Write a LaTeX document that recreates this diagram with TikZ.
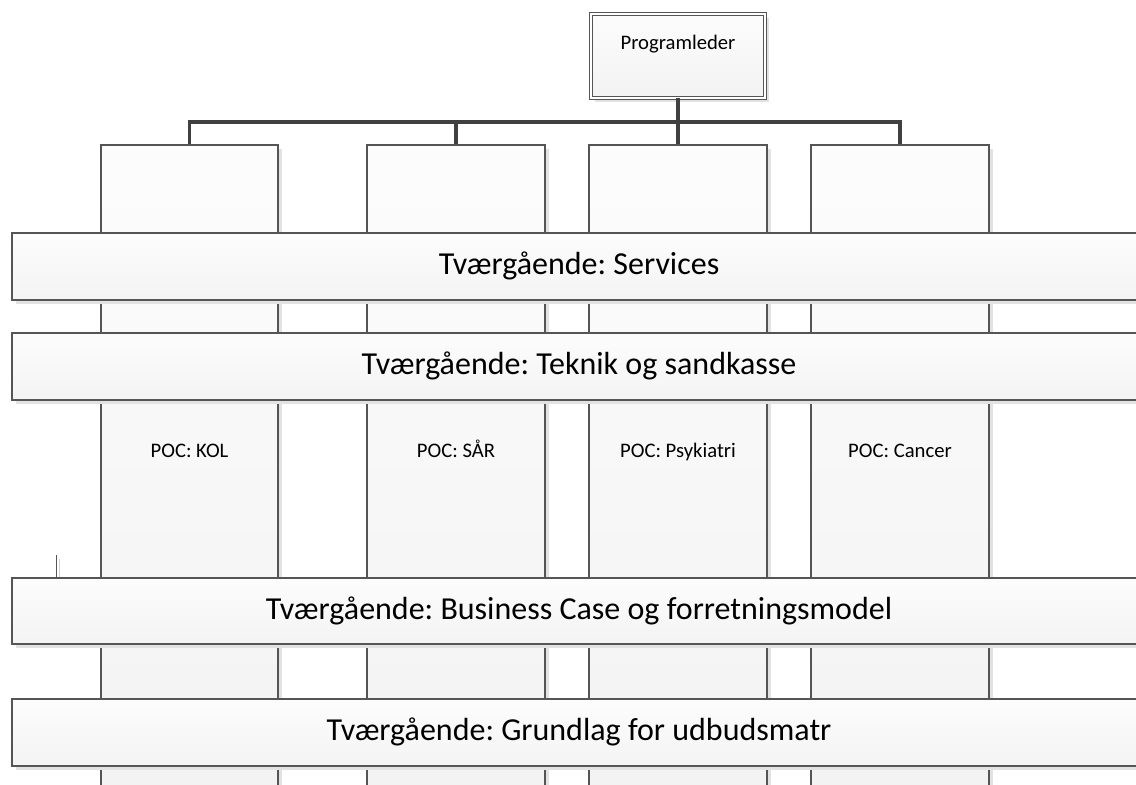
\documentclass[tikz,border=0pt]{standalone}
\usepackage{fontspec}
\setmainfont{Carlito}
\usepackage{xcolor}
\definecolor{edgegray}{RGB}{85, 85, 85}
\definecolor{linegray}{RGB}{64, 64, 64}
\definecolor{shadowgray}{RGB}{226, 226, 226}
\usetikzlibrary{positioning, calc, fit, shadows}

\tikzset{
  column/.style={draw=edgegray, line width=0.8pt, inner sep=0pt,
    top color=gray!2, bottom color=gray!10,
    drop shadow={shadow xshift=3pt, shadow yshift=-3pt, fill=shadowgray, opacity=1}},
  band/.style={draw=edgegray, line width=0.8pt, inner sep=0pt,
    top color=gray!2, bottom color=gray!9,
    drop shadow={shadow xshift=3pt, shadow yshift=-3pt, fill=shadowgray, opacity=1}},
  bandtext/.style={font=\fontsize{24}{28}\selectfont, text height=17pt, text depth=5pt},
  leadbox/.style={draw=edgegray, line width=0.7pt, double=white, double distance=1.9pt,
    inner sep=0pt, top color=gray!2, bottom color=gray!10,
    drop shadow={shadow xshift=3pt, shadow yshift=-3pt, fill=shadowgray, opacity=1}},
  poc/.style={font=\fontsize{15.5}{18}\selectfont, text height=11pt, text depth=3.5pt},
  conn/.style={draw=linegray, line width=2.3pt},
}

\begin{document}
\frenchspacing
\begin{tikzpicture}[x=0.75pt, y=-0.75pt]
  \useasboundingbox (0,0) rectangle (1136,785);
  \clip (0,0) rectangle (1136,785);

  % Helper rows
  \coordinate (bus) at (0,122);
  \coordinate (pocrow) at (0,452);

  % POC columns
  \node[column, fit={(101,145) (278,810)}] (kol) {};
  \node[column, fit={(367,145) (545,810)}] (saar) {};
  \node[column, fit={(589,145) (767,810)}] (psyk) {};
  \node[column, fit={(811,145) (989,810)}] (cancer) {};

  \node[poc] (kollbl) at (kol |- pocrow) {POC: KOL};
  \node[poc] (saarlbl) at (saar |- pocrow) {POC: SÅR};
  \node[poc] (psyklbl) at (psyk |- pocrow) {POC: Psykiatri};
  \node[poc] (cancerlbl) at (cancer |- pocrow) {POC: Cancer};

  % Stray mark
  \draw[edgegray, line width=0.6pt] (56,555) -- (56,578);
  \draw[gray!35, line width=0.6pt] (59,559) -- (59,582);

  % Cross-cutting bands
  \node[band, fit={(12,233) (1146,300)}] (services) {};
  \node[band, fit={(12,333) (1146,400)}] (teknik) {};
  \node[band, fit={(12,578) (1146,644)}] (business) {};
  \node[band, fit={(12,699) (1146,766)}] (udbud) {};

  \node[bandtext] (serviceslbl) at (services) {Tværgående: Services};
  \node[bandtext] (tekniklbl) at (teknik) {Tværgående: Teknik og sandkasse};
  \node[bandtext] (businesslbl) at (business) {Tværgående: Business Case og forretningsmodel};
  \node[bandtext] (udbudlbl) at (udbud) {Tværgående: Grundlag for udbudsmatr};

  % Programme lead
  \node[leadbox, fit={(591,14) (765,98)}] (lead) {};
  \node[poc] (leadlbl) at ($(lead.north)+(0,31)$) {Programleder};

  % Connectors
  \draw[conn] (lead.south) -- (lead.south |- bus);
  \draw[conn] (kol.north) |- (bus -| cancer.north) -- (cancer.north);
  \foreach \c in {saar, psyk}
    \draw[conn] (bus -| \c.north) -- (\c.north);
\end{tikzpicture}
\end{document}
